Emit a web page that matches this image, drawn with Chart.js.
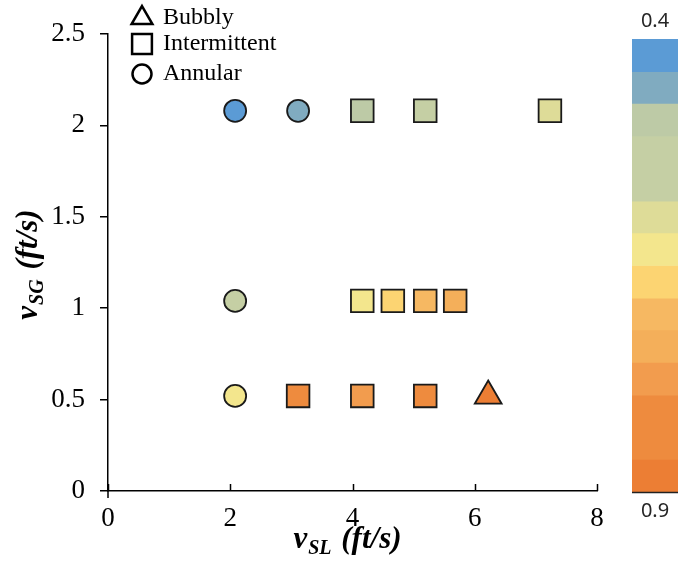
<!DOCTYPE html>
<html>
<head>
<meta charset="utf-8">
<script src="https://cdn.jsdelivr.net/npm/chart.js@4.4.1/dist/chart.umd.min.js"></script>
<style>
  html, body { margin: 0; padding: 0; background: #fff; }
  #wrap { position: relative; width: 678px; height: 569px; overflow: hidden; }
  #main { position: absolute; left: 0; top: 0; }
  #bar { position: absolute; left: 632px; top: 0; }
</style>
</head>
<body>
<div id="wrap">
  <canvas id="main" width="678" height="569"></canvas>
  <canvas id="bar" width="46" height="569"></canvas>
</div>
<script>
// superficial liquid / gas velocity (ft/s) and liquid holdup, per flow pattern
const bubblyVsl = [6.22];
const bubblyVsg = [0.52];
const bubblyHoldup = [0.88];

const intermittentVsl = [4.16, 5.19, 7.23, 4.16, 4.66, 5.19, 5.68, 3.11, 4.16, 5.19];
const intermittentVsg = [2.08, 2.08, 2.08, 1.04, 1.04, 1.04, 1.04, 0.52, 0.52, 0.52];
const intermittentHoldup = [0.49, 0.52, 0.60, 0.63, 0.67, 0.70, 0.74, 0.84, 0.78, 0.81];

const annularVsl = [2.08, 3.11, 2.08, 2.08];
const annularVsg = [2.08, 2.08, 1.04, 0.52];
const annularHoldup = [0.42, 0.45, 0.56, 0.63];

const xTicks = [0, 2, 4, 6, 8];
const yTicks = [0, 0.5, 1, 1.5, 2, 2.5];

// colour scale for holdup, 0.4 (top) to 0.9 (bottom)
const bandEdges = [0.4, 0.436, 0.471, 0.507, 0.543, 0.579, 0.614, 0.65, 0.686, 0.721, 0.757, 0.793, 0.829, 0.864, 0.9];
const bandColors = ['#5b9bd5', '#80abc0', '#bdcaa6', '#c5cfa4', '#c5cfa4', '#dedc98', '#f3e68d',
                    '#fcd472', '#f6b862', '#f4af5a', '#f29c4e', '#ee8b3e', '#ee8b3e', '#ec7e34'];
const scaleLabels = ['0.4', '0.9'];

const SERIF = "'Liberation Serif', 'Times New Roman', serif";

function colorFor(h) {
  for (let i = 0; i < bandColors.length; i++) {
    if (h < bandEdges[i + 1]) return bandColors[i];
  }
  return bandColors[bandColors.length - 1];
}

function pts(xs, ys, hs) {
  return xs.map((x, i) => ({ x: x, y: ys[i], h: hs[i] }));
}

function series(label, style, radius, xs, ys, hs) {
  return {
    label: label,
    data: pts(xs, ys, hs),
    showLine: false,
    pointStyle: style,
    pointRadius: radius,
    pointHoverRadius: radius,
    pointBorderColor: '#1a1a1a',
    pointBorderWidth: 1.8,
    pointBackgroundColor: (c) => c.raw ? colorFor(c.raw.h) : '#fff'
  };
}

// inward x ticks, legend, axis titles
const decorations = {
  id: 'decorations',
  afterDraw(chart) {
    const ctx = chart.ctx;
    const area = chart.chartArea;
    const xs = chart.scales.x;
    ctx.save();
    ctx.strokeStyle = '#000';
    ctx.lineWidth = 1.5;
    ctx.beginPath();
    xTicks.forEach(v => {
      const px = Math.round(xs.getPixelForValue(v)) + 0.5;
      ctx.moveTo(px, area.bottom);
      ctx.lineTo(px, area.bottom - 7);
    });
    ctx.moveTo(area.left, area.bottom);
    ctx.lineTo(area.left, area.bottom + 7);
    ctx.stroke();

    // legend
    const items = [
      { text: 'Bubbly', style: 'triangle', r: 12, y: 18 },
      { text: 'Intermittent', style: 'rect', r: 14, y: 44 },
      { text: 'Annular', style: 'circle', r: 9.5, y: 74 }
    ];
    ctx.fillStyle = '#fff';
    ctx.strokeStyle = '#000';
    ctx.lineWidth = 2.5;
    items.forEach(it => {
      Chart.helpers.drawPoint(ctx, { pointStyle: it.style, radius: it.r, rotation: 0, borderWidth: 2.5 }, 142, it.y);
    });
    ctx.fillStyle = '#000';
    ctx.font = '24px ' + SERIF;
    ctx.textAlign = 'left';
    ctx.textBaseline = 'middle';
    items.forEach(it => ctx.fillText(it.text, 163, it.y));

    // axis titles with subscripts
    function title(main, sub, rest, cx, base) {
      const fMain = 'italic bold 31px ' + SERIF;
      const fSub = 'italic bold 20px ' + SERIF;
      ctx.font = fMain; const w1 = ctx.measureText(main).width;
      ctx.font = fSub; const w2 = ctx.measureText(sub).width;
      ctx.font = fMain; const w3 = ctx.measureText(rest).width;
      let x = cx - (w1 + w2 + w3 + 3) / 2;
      ctx.textAlign = 'left';
      ctx.textBaseline = 'alphabetic';
      ctx.font = fMain; ctx.fillText(main, x, base); x += w1 + 1;
      ctx.font = fSub; ctx.fillText(sub, x, base + 6); x += w2 + 2;
      ctx.font = fMain; ctx.fillText(rest, x, base);
    }
    ctx.fillStyle = '#000';
    title('v', 'SL', ' (ft/s)', (area.left + area.right) / 2 - 5, 548);
    ctx.save();
    ctx.translate(37, (area.top + area.bottom) / 2 + 2);
    ctx.rotate(-Math.PI / 2);
    title('v', 'SG', ' (ft/s)', 0, 0);
    ctx.restore();
    ctx.restore();
  }
};

new Chart(document.getElementById('main'), {
  type: 'scatter',
  data: {
    datasets: [
      series('Bubbly', 'triangle', 15.5, bubblyVsl, bubblyVsg, bubblyHoldup),
      series('Intermittent', 'rect', 16, intermittentVsl, intermittentVsg, intermittentHoldup),
      series('Annular', 'circle', 11, annularVsl, annularVsg, annularHoldup)
    ]
  },
  options: {
    responsive: false,
    animation: false,
    layout: { padding: { left: 0, right: 81, top: 34, bottom: 0 } },
    plugins: { legend: { display: false }, tooltip: { enabled: false } },
    scales: {
      x: {
        type: 'linear', min: 0, max: 8,
        afterBuildTicks: s => { s.ticks = xTicks.map(v => ({ value: v })); },
        afterFit: s => { s.height = 78; },
        grid: { drawOnChartArea: false, drawTicks: false },
        border: { color: '#000', width: 1.5 },
        ticks: { color: '#000', padding: 12, font: { family: SERIF, size: 27 }, maxRotation: 0,
                 callback: v => String(v) }
      },
      y: {
        type: 'linear', min: 0, max: 2.5,
        afterBuildTicks: s => { s.ticks = yTicks.map(v => ({ value: v })); },
        afterFit: s => { s.width = 108; },
        grid: { drawOnChartArea: false, drawTicks: true, tickLength: 8, color: '#000', lineWidth: 1.5 },
        border: { color: '#000', width: 1.5 },
        ticks: { color: '#000', padding: 15, font: { family: SERIF, size: 27 },
                 callback: v => String(v) }
      }
    }
  },
  plugins: [decorations]
});

// colour bar
const barLabels = {
  id: 'barLabels',
  afterDraw(chart) {
    const ctx = chart.ctx;
    const area = chart.chartArea;
    ctx.save();
    ctx.strokeStyle = '#222';
    ctx.lineWidth = 1.5;
    ctx.beginPath();
    ctx.moveTo(0, area.bottom + 0.5);
    ctx.lineTo(chart.width, area.bottom + 0.5);
    ctx.stroke();
    ctx.fillStyle = '#262626';
    ctx.font = "20px 'Liberation Sans Narrow', 'Noto Sans', sans-serif";
    ctx.textAlign = 'center';
    ctx.textBaseline = 'middle';
    ctx.fillText(scaleLabels[0], 23, 21);
    ctx.fillText(scaleLabels[1], 23, 511);
    ctx.restore();
  }
};

new Chart(document.getElementById('bar'), {
  type: 'bar',
  data: {
    labels: ['holdup'],
    datasets: bandColors.map((c, i) => ({
      data: [[bandEdges[i], bandEdges[i + 1]]],
      backgroundColor: c,
      borderWidth: 0,
      barPercentage: 1,
      categoryPercentage: 1,
      grouped: false
    }))
  },
  options: {
    responsive: false,
    animation: false,
    layout: { padding: { left: 0, right: 0, top: 39, bottom: 77 } },
    plugins: { legend: { display: false }, tooltip: { enabled: false } },
    scales: {
      x: { display: false },
      y: { display: false, min: 0.4, max: 0.9, reverse: true }
    }
  },
  plugins: [barLabels]
});
</script>
</body>
</html>
